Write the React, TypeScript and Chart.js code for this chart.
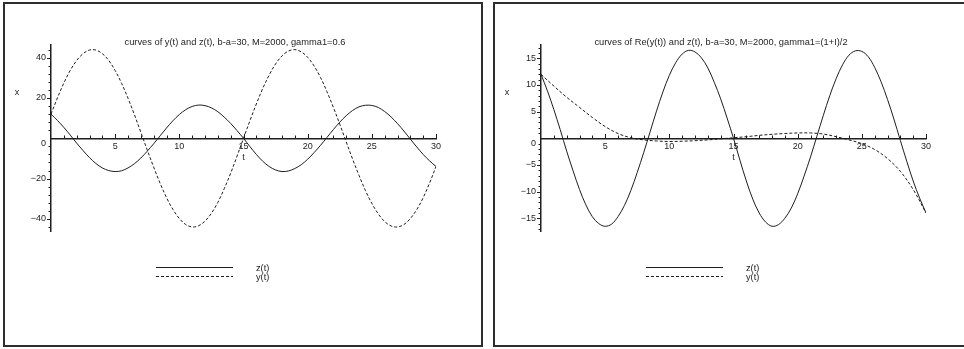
import React, { useEffect, useRef } from 'react';
import { Chart, registerables } from 'chart.js';

Chart.register(...registerables);

// ---------- data ----------
const tFine = [
  0, 0.5, 1, 1.5, 2, 2.5, 3, 3.5, 4, 4.5,
  5, 5.5, 6, 6.5, 7, 7.5, 8, 8.5, 9, 9.5,
  10, 10.5, 11, 11.5, 12, 12.5, 13, 13.5, 14, 14.5,
  15, 15.5, 16, 16.5, 17, 17.5, 18, 18.5, 19, 19.5,
  20, 20.5, 21, 21.5, 22, 22.5, 23, 23.5, 24, 24.5,
  25, 25.5, 26, 26.5, 27, 27.5, 28, 28.5, 29, 29.5,
  30,
];

const zValues = [
  12.0, 8.9, 5.4, 1.6, -2.4, -6.1, -9.6, -12.5, -14.7, -16.0,
  -16.5, -16.1, -14.7, -12.6, -9.8, -6.4, -2.7, 1.2, 5.1, 8.7,
  11.8, 14.2, 15.8, 16.5, 16.2, 15.1, 13.2, 10.5, 7.4, 3.8,
  0.0, -4.1, -8.0, -11.4, -14.0, -15.7, -16.5, -16.2, -15.0, -13.1,
  -10.4, -7.1, -3.5, 0.4, 4.3, 8.0, 11.2, 13.8, 15.6, 16.4,
  16.3, 15.3, 13.3, 10.6, 7.3, 3.6, -0.4, -4.3, -8.0, -11.2,
  -14.0,
];

const yLeftValues = [
  12.0, 20.0, 27.4, 33.7, 38.6, 42.0, 43.8, 43.8, 42.0, 38.6,
  33.6, 27.3, 19.9, 11.7, 3.0, -5.8, -14.3, -22.3, -29.4, -35.3,
  -39.8, -42.8, -44.0, -43.4, -41.1, -37.2, -31.8, -25.0, -17.3, -8.8,
  0.0, 8.7, 17.0, 24.7, 31.4, 36.9, 40.9, 43.3, 44.0, 42.9,
  40.2, 35.9, 30.2, 23.2, 15.4, 7.0, -1.7, -10.3, -18.4, -25.9,
  -32.3, -37.5, -41.3, -43.5, -44.0, -42.8, -39.8, -35.4, -29.5, -22.2,
  -14.0,
];

const tCoarse = [
  0, 1, 2, 3, 4, 5, 6, 7, 8, 9,
  10, 11, 12, 13, 14, 15, 16, 17, 18, 19,
  20, 21, 22, 23, 24, 25, 26, 27, 28, 29,
  30,
];

const yRightValues = [
  12.0, 9.8, 7.7, 5.8, 3.9, 2.2, 0.9, 0.1, -0.3, -0.5,
  -0.6, -0.55, -0.45, -0.3, -0.1, 0.1, 0.3, 0.55, 0.75, 0.9,
  1.0, 1.0, 0.8, 0.3, -0.3, -1.0, -2.1, -3.8, -6.2, -9.6,
  -14.0,
];

const xTickLabels = [5, 10, 15, 20, 25, 30];
const leftYTickLabels = [-40, -20, 0, 20, 40];
const rightYTickLabels = [-15, -10, -5, 0, 5, 10, 15];
const legendLabels = ['z(t)', 'y(t)'];
const leftTitle = 'curves of y(t) and z(t), b-a=30, M=2000, gamma1=0.6';
const rightTitle = 'curves of Re(y(t)) and z(t), b-a=30, M=2000, gamma1=(1+I)/2';

// ---------- styling ----------
const FONT = '"Liberation Sans", Arial, Helvetica, sans-serif';
const INK = '#1e1e1e';
const CANVAS_W = 476;
const CANVAS_H = 341;
const AXIS_LEFT = 46;

const fmt = (v: number) => (v < 0 ? '\u2212' + Math.abs(v) : String(v));

type PanelProps = {
  title: string;
  titleX: number;
  t1: number[];
  v1: number[];
  t2: number[];
  v2: number[];
  yLimit: number;
  yTicks: number[];
  yMinorStep: number;
  yMajorStep: number;
  left: number;
};

function Panel(p: PanelProps) {
  const ref = useRef<HTMLCanvasElement | null>(null);

  useEffect(() => {
    const canvas = ref.current;
    if (!canvas) return;

    const decor = {
      id: 'mapleDecor',
      afterDraw(chart: any) {
        const ctx = chart.ctx as CanvasRenderingContext2D;
        const xs = chart.scales.x;
        const ys = chart.scales.y;
        const x0 = Math.round(xs.getPixelForValue(0));
        const y0 = Math.round(ys.getPixelForValue(0));
        ctx.save();
        // tick marks (major + minor)
        ctx.strokeStyle = INK;
        ctx.lineWidth = 1;
        ctx.setLineDash([]);
        ctx.beginPath();
        for (let t = 1; t <= 30; t++) {
          const px = Math.round(xs.getPixelForValue(t)) + 0.5;
          const len = t % 5 === 0 ? 4 : 2.5;
          ctx.moveTo(px, y0);
          ctx.lineTo(px, y0 - len);
        }
        const n = Math.floor(p.yLimit / p.yMinorStep);
        for (let k = -n; k <= n; k++) {
          const v = k * p.yMinorStep;
          if (v === 0) continue;
          const py = Math.round(ys.getPixelForValue(v)) + 0.5;
          const len = v % p.yMajorStep === 0 ? 4 : 2.5;
          ctx.moveTo(x0, py);
          ctx.lineTo(x0 - len, py);
        }
        ctx.stroke();

        // texts
        ctx.fillStyle = INK;
        ctx.textBaseline = 'middle';
        ctx.textAlign = 'center';
        ctx.font = `9.3px ${FONT}`;
        ctx.fillText(p.title, p.titleX, 38);
        ctx.font = `9px ${FONT}`;
        ctx.fillText('x', 12, 89);
        ctx.fillText('t', (xs.left + xs.right) / 2, 154);

        // legend
        chart.data.datasets.forEach((ds: any, i: number) => {
          const ly = Math.round(263 + i * 8.7) + 0.5;
          ctx.beginPath();
          ctx.strokeStyle = INK;
          ctx.lineWidth = 1;
          ctx.setLineDash(ds.borderDash || []);
          ctx.moveTo(151, ly);
          ctx.lineTo(228, ly);
          ctx.stroke();
          ctx.setLineDash([]);
          ctx.textAlign = 'left';
          ctx.font = `9.2px ${FONT}`;
          ctx.fillText(ds.label, 251, ly + 0.5);
        });
        ctx.restore();
      },
    };

    const chart = new Chart(canvas, {
      type: 'line',
      data: {
        datasets: [
          {
            label: legendLabels[0],
            data: p.t1.map((t, i) => ({ x: t, y: p.v1[i] })),
            borderColor: INK,
            borderWidth: 1,
            pointRadius: 0,
            tension: 0.35,
            fill: false,
          },
          {
            label: legendLabels[1],
            data: p.t2.map((t, i) => ({ x: t, y: p.v2[i] })),
            borderColor: INK,
            borderWidth: 1,
            borderDash: [3, 2],
            pointRadius: 0,
            tension: 0.35,
            fill: false,
          },
        ],
      },
      options: {
        responsive: false,
        animation: false,
        devicePixelRatio: 1,
        layout: { padding: { left: 0, right: 45, top: 41, bottom: 113.4 } },
        plugins: {
          legend: { display: false },
          title: { display: false },
          tooltip: { enabled: false },
        },
        events: [],
        scales: {
          x: {
            type: 'linear',
            min: 0,
            max: 30,
            position: { y: 0 } as any,
            afterBuildTicks: (scale: any) => {
              scale.ticks = xTickLabels.map((v) => ({ value: v }));
            },
            ticks: {
              autoSkip: false,
              maxRotation: 0,
              padding: 3,
              color: INK,
              font: { family: FONT, size: 9 },
              callback: (v: any) => fmt(Number(v)),
            },
            grid: { display: false, drawTicks: false },
            border: { display: true, color: INK, width: 1.5 },
          },
          y: {
            type: 'linear',
            min: -p.yLimit,
            max: p.yLimit,
            position: 'left',
            afterBuildTicks: (scale: any) => {
              scale.ticks = p.yTicks.map((v) => ({ value: v }));
            },
            afterFit: (scale: any) => {
              scale.width = AXIS_LEFT;
            },
            ticks: {
              autoSkip: false,
              padding: 5,
              color: INK,
              font: { family: FONT, size: 9, lineHeight: 1.1 },
              callback: (v: any) => (Number(v) === 0 ? ['', '0'] : fmt(Number(v))),
            },
            grid: { display: false, drawTicks: false },
            border: { display: true, color: INK, width: 1.5 },
          },
        },
      },
      plugins: [decor],
    } as any);

    return () => chart.destroy();
  }, []);

  return (
    <div
      style={{
        position: 'absolute',
        left: p.left,
        top: 2,
        width: CANVAS_W,
        height: CANVAS_H,
        border: '2px solid #2e2e2e',
        background: '#fff',
      }}
    >
      <canvas
        ref={ref}
        width={CANVAS_W}
        height={CANVAS_H}
        style={{ display: 'block', width: CANVAS_W, height: CANVAS_H }}
      />
    </div>
  );
}

export default function App() {
  return (
    <div
      style={{
        position: 'fixed',
        left: 0,
        top: 0,
        width: 964,
        height: 349,
        overflow: 'hidden',
        background: '#fff',
      }}
    >
      <Panel
        title={leftTitle}
        titleX={230}
        t1={tFine}
        v1={zValues}
        t2={tFine}
        v2={yLeftValues}
        yLimit={46.3}
        yTicks={leftYTickLabels}
        yMinorStep={4}
        yMajorStep={20}
        left={3}
      />
      <Panel
        title={rightTitle}
        titleX={226}
        t1={tFine}
        v1={zValues}
        t2={tCoarse}
        v2={yRightValues}
        yLimit={17.5}
        yTicks={rightYTickLabels}
        yMinorStep={1}
        yMajorStep={5}
        left={493}
      />
    </div>
  );
}
